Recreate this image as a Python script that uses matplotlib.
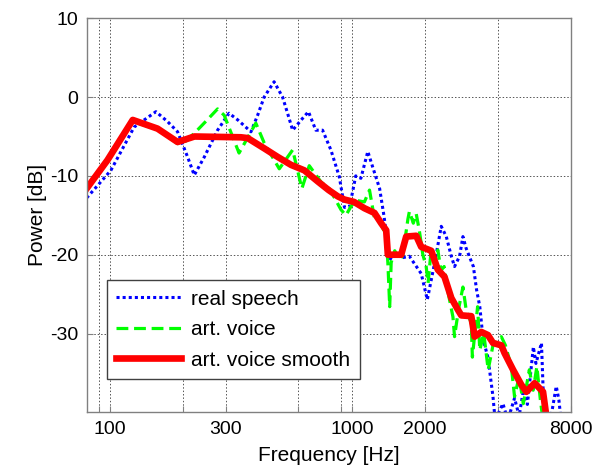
import matplotlib
matplotlib.use("Agg")
import matplotlib.pyplot as plt

plt.rcParams['font.family'] = ['Liberation Sans', 'DejaVu Sans']
plt.rcParams['axes.unicode_minus'] = False

# ---- data ----
red_f = [80, 97.5, 124, 157, 190, 223, 347, 370, 433, 493, 559, 635, 721, 800, 873, 929,
         1018, 1124, 1237, 1318, 1383, 1405, 1595, 1673, 1840, 1930, 2123, 2260, 2408,
         2570, 2738, 2826, 3108, 3206, 3419, 3643, 3821, 4136, 4267, 4624, 5001, 5248,
         5678, 6150, 6347, 6500]
red_db = [-11.6, -8.0, -2.9, -4.0, -5.7, -5.0, -5.1, -5.2, -6.5, -7.6, -8.6, -9.3, -10.7,
          -11.8, -12.6, -13.0, -13.3, -14.1, -14.7, -16.0, -16.9, -20.0, -20.0, -17.7,
          -17.6, -19.0, -19.5, -21.9, -22.8, -25.5, -27.0, -27.7, -27.8, -30.4, -29.8,
          -30.2, -31.2, -31.5, -32.5, -34.6, -36.5, -37.4, -36.3, -37.4, -40.5, -42.0]

blue_f = [80, 100.7, 125.7, 154.6, 172.6, 190, 209, 222.7, 245, 278, 310, 337, 382, 407,
          433, 476, 516, 541, 568, 616, 660, 708, 755, 817, 885, 930, 977, 1035, 1087,
          1161, 1214, 1299, 1356, 1427, 1496, 1600, 1725, 1930, 2045, 2204, 2335, 2450,
          2570, 2650, 2780, 2870, 2960, 3170, 3270, 3370, 3480, 3640, 3820, 3900, 4200,
          4400, 4690, 4900, 5100, 5300, 5610, 5750, 6060, 6200, 6400, 6600, 6975, 7150,
          7300]
blue_db = [-12.8, -9.3, -3.8, -1.85, -3.1, -4.4, -7.6, -9.9, -7.6, -4.2, -2.05, -2.9,
           -4.4, -2.3, 0.0, 1.95, 0.0, -2.05, -4.2, -2.9, -1.85, -4.2, -4.2, -6.7, -10.1,
           -14.0, -13.9, -10.0, -10.3, -6.9, -8.8, -11.6, -15.2, -20.7, -19.8, -20.4,
           -20.2, -22.4, -25.7, -20.7, -16.4, -17.7, -20.2, -21.5, -20.2, -17.7, -19.2,
           -21.5, -24.5, -26.6, -30.8, -33.0, -38.0, -41.0, -38.9, -41.0, -38.2, -40.5,
           -37.2, -39.0, -31.7, -33.8, -31.2, -39.7, -41.0, -41.0, -36.7, -38.4, -41.0]

green_f = [80, 97.5, 124, 157, 190, 205, 222.7, 250, 278, 296, 341, 400, 433, 500, 568,
           620, 665, 745, 805, 900, 943, 988, 1035, 1124, 1180, 1237, 1300, 1380, 1405,
           1430, 1450, 1500, 1580, 1620, 1700, 1725, 1790, 1840, 1897, 1960, 2023, 2060,
           2120, 2200, 2260, 2330, 2400, 2500, 2610, 2650, 2750, 2870, 2960, 3108, 3140,
           3300, 3370, 3500, 3650, 3820, 4136, 4300, 4550, 4690, 4900, 5100, 5400, 5600,
           5800, 6000, 6150]
green_db = [-11.8, -8.2, -3.1, -4.1, -5.9, -5.6, -4.6, -3.0, -1.5, -2.3, -7.1, -3.3,
            -5.8, -9.1, -6.7, -11.6, -8.7, -10.8, -11.6, -14.3, -15.0, -13.9, -13.1,
            -13.3, -11.8, -15.4, -15.8, -17.5, -21.0, -26.6, -21.0, -19.5, -20.7, -20.0,
            -15.5, -14.5, -16.0, -14.8, -17.0, -20.0, -21.5, -23.6, -19.5, -20.8, -19.4,
            -22.0, -21.5, -25.0, -27.9, -30.4, -27.0, -24.1, -27.0, -28.7, -33.0, -26.6,
            -32.1, -30.0, -34.6, -31.5, -30.4, -31.5, -34.2, -38.0, -35.5, -38.9, -34.6,
            -37.2, -34.2, -38.5, -41.0]

xtick_vals = [90, 100, 200, 300, 600, 900, 1000, 2000, 4000, 8000]
xtick_labels = ['', '100', '', '300', '', '', '1000', '2000', '', '8000']
ytick_vals = [-30, -20, -10, 0, 10]

# ---- figure ----
fig = plt.figure(figsize=(6.04, 4.68), dpi=100)
ax = fig.add_axes([0.1435, 0.1190, 0.8013, 0.8419])

ax.plot(blue_f, blue_db, color=(0, 0, 1), linestyle=(0, (1, 1)), linewidth=2.2,
        label='real speech')
ax.plot(green_f, green_db, color=(0, 1, 0), linestyle=(0, (3.7, 1.8)), linewidth=2.3,
        label='art. voice')
ax.plot(red_f, red_db, color=(1, 0, 0), linestyle='-', linewidth=4.8,
        label='art. voice smooth', solid_joinstyle='round')

ax.set_xscale('log')
ax.set_xlim(80, 8000)
ax.set_ylim(-40, 10)
ax.set_xticks(xtick_vals)
ax.set_xticklabels(xtick_labels)
ax.xaxis.set_minor_locator(matplotlib.ticker.NullLocator())
ax.set_yticks(ytick_vals)

ax.grid(True, which='major', linestyle=(0, (1.5, 2)), color='#555555', linewidth=0.7)
for s in ax.spines.values():
    s.set_color('#808080')
    s.set_linewidth(1.0)
ax.tick_params(direction='in', length=4, color='#808080', labelsize=14,
               labelcolor='black', pad=6)

ax.set_xlabel('Frequency [Hz]', fontsize=15, labelpad=6)
ax.set_ylabel('Power [dB]', fontsize=15, labelpad=2)

leg = ax.legend(loc='lower left', bbox_to_anchor=(0.0413, 0.0845), borderaxespad=0,
                fontsize=15, handlelength=3.1, handletextpad=0.5, labelspacing=0.55,
                borderpad=0.45, fancybox=False, framealpha=1, edgecolor='#404040')
leg.get_frame().set_linewidth(1.0)

fig.savefig('out.png', dpi=100)
